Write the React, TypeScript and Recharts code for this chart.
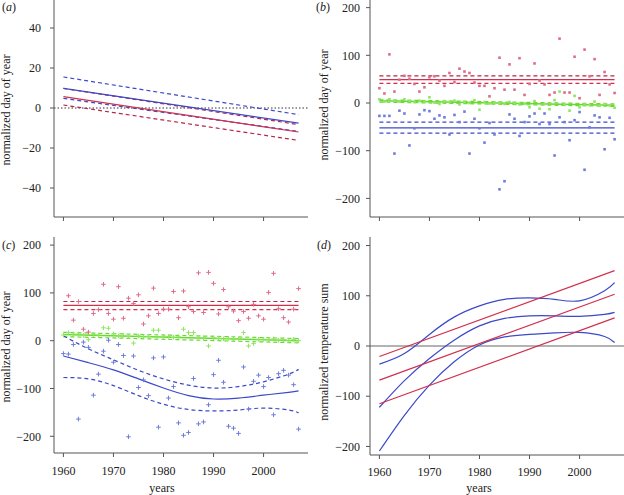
import React from 'react';
import { ComposedChart, Line, Scatter, XAxis, YAxis, ReferenceLine } from 'recharts';

// ---------- categories ----------
const YEARS = [
  1960, 1961, 1962, 1963, 1964, 1965, 1966, 1967, 1968, 1969,
  1970, 1971, 1972, 1973, 1974, 1975, 1976, 1977, 1978, 1979,
  1980, 1981, 1982, 1983, 1984, 1985, 1986, 1987, 1988, 1989,
  1990, 1991, 1992, 1993, 1994, 1995, 1996, 1997, 1998, 1999,
  2000, 2001, 2002, 2003, 2004, 2005, 2006, 2007,
];
const FIT_YEARS = [1960, 2007];
const CURVE_YEARS = [1960, 1965, 1970, 1975, 1980, 1985, 1990, 1995, 2000, 2005, 2007];
const X_TICKS = [1960, 1970, 1980, 1990, 2000];
const Y_TICKS_A = [-40, -20, 0, 20, 40];
const Y_TICKS_BIG = [-200, -100, 0, 100, 200];

// ---------- panel (a) ----------
const aBlueFit = [9.8, -7.6];
const aBlueUpper = [15.5, -3.3];
const aBlueLower = [4.8, -11.7];
const aRedFit = [5.7, -12.0];
const aRedUpper = [9.8, -8.3];
const aRedLower = [1.5, -16.2];

// ---------- panel (b) ----------
const bRed = [
  31, 20, 102, 24, 49, 57, 51, 40, 24, 33,
  54, 56, 47, 36, 63, 44, 72, 66, 63, 43,
  36, 36, 14, 31, 95, 28, 81, 28, 94, 17,
  40, 83, 47, 39, 17, 22, 135, 22, 22, 97,
  10, 112, 56, 92, 17, 65, 39, 21,
];
const bGreen = [
  8, 3, 8, 5, 3, 8, 4, 2, 5, 3,
  12, 1, -2, 4, 2, 5, -3, 2, 0, 6,
  -14, 2, -1, 1, 0, -2, 2, 0, -3, -1,
  -9, 4, -12, -2, -13, 6, 24, -4, -16, 15,
  -9, -3, -4, 3, -6, -2, -5, -10,
];
const bBlue = [
  -27, -27, -27, -106, -16, -22, -89, -53, -24, -15,
  -17, -33, -26, -30, -66, -25, -40, -18, -106, -33,
  -53, -83, -42, -66, -181, -164, -24, -33, -69, -40,
  -28, -22, -44, -22, -44, -110, -30, -40, -78, -36,
  -19, -140, -51, -26, -30, -97, -31, -76,
];
const bRedFit = [49, 49];
const bRedUpper = [57, 57];
const bRedLower = [41, 41];
const bGreenFit = [4.5, -4.5];
const bGreenUpper = [7, -2];
const bGreenLower = [2, -7];
const bBlueFit = [-52, -52];
const bBlueUpper = [-40, -40];
const bBlueLower = [-63, -63];

// ---------- panel (c) ----------
const cRed = [
  null, 94, 43, 82, 24, 18, 57, 65, 118, 57,
  45, 113, 47, 89, 78, 96, 35, 52, 110, 57,
  66, 66, 103, 48, 104, 71, 61, 142, 59, 143,
  120, 56, 107, 71, 62, 42, 61, 47, 76, 52,
  45, 101, 141, 67, 48, 39, 66, 109,
];
const cGreen = [
  12, 17, 14, 14, 11, 2, 13, 12, 27, 26,
  14, 10, 11, 9, -5, 10, 8, 9, 22, 22,
  8, 9, 7, 8, 24, 17, 17, 7, 6, -11,
  6, 5, 4, 5, 3, 4, 17, -11, -6, 3,
  3, 2, 4, 1, 2, 0, 3, 0,
];
const cBlue = [
  -27, -28, -8, -164, -3, -14, -114, -70, -22, 1,
  -45, -8, -31, -201, -32, -98, -82, -115, -36, -181,
  -34, -120, -96, -172, -198, -192, -79, -174, -170, -134,
  -71, -41, -87, -179, -183, -194, -55, -143, -85, -72,
  -96, -77, -155, -69, -62, -72, -92, -185,
];
const cRedFit = [74, 74];
const cRedUpper = [82, 82];
const cRedLower = [65, 65];
const cGreenFit = [13, 0];
const cGreenUpper = [17.5, 4.5];
const cGreenLower = [8.5, -4.5];
const cBlueFit = [-32, -46, -61, -80, -99, -115, -122, -120, -114, -108, -105];
const cBlueUpper = [10, -17, -40, -62, -80, -93, -99, -96, -86, -70, -60];
const cBlueLower = [-77, -80, -94, -115, -133, -144, -147, -145, -141, -145, -151];

// ---------- panel (d) ----------
const dRedUpper = [-21, 150];
const dRedMid = [-68, 103];
const dRedLower = [-115, 56];
const dBlueUpper = [-36, -15, 23, 58, 80, 93, 96, 93, 90, 110, 126];
const dBlueMid = [-122, -69, -25, 12, 40, 55, 60, 60, 59, 63, 67];
const dBlueLower = [-209, -138, -78, -31, 2, 18, 23, 26, 27, 19, 7];

// ---------- styling ----------
const FONT = "'Liberation Serif', 'Times New Roman', 'DejaVu Serif', serif";
const FS = 12;
const RED = '#d22f4d';
const RED_DARK = '#b8244a';
const RED_PT = '#e06c86';
const BLUE = '#3c49c8';
const BLUE_PT = '#6f7ddb';
const GREEN = '#68d832';
const GREEN_PT = '#8fe65f';
const AXIS = '#555';
const DASH = '4 3';

const pts = (xs: number[], ys: (number | null)[]) =>
  xs.map((x, i) => ({ x, y: ys[i] })).filter((p) => p.y !== null && p.y !== undefined);

const fmt = (v: number) => String(v).replace('-', '\u2212');

const square = (color: string) => (props: any) => {
  const { cx, cy } = props;
  if (cx == null || cy == null) return <g />;
  return <rect x={cx - 1.3} y={cy - 1.3} width={2.6} height={2.6} fill={color} />;
};
const plus = (color: string) => (props: any) => {
  const { cx, cy } = props;
  if (cx == null || cy == null) return <g />;
  return (
    <path d={`M${cx - 2.3},${cy}H${cx + 2.3}M${cx},${cy - 2.3}V${cy + 2.3}`} stroke={color} strokeWidth={1} fill="none" />
  );
};

const tickStyle = { fill: '#222', fontSize: FS, style: { fontFamily: FONT } };

function fitLine(key: string, xs: number[], ys: number[], color: string, dashed: boolean, type: any = 'linear', w = 1.2) {
  return (
    <Line
      key={key}
      data={pts(xs, ys)}
      dataKey="y"
      type={type}
      stroke={color}
      strokeWidth={w}
      strokeDasharray={dashed ? DASH : undefined}
      dot={false}
      activeDot={false}
      isAnimationActive={false}
      legendType="none"
    />
  );
}

function PanelA() {
  return (
    <ComposedChart width={312} height={245} margin={{ top: 0, right: 4, bottom: 0, left: 0 }}>
      <XAxis type="number" dataKey="x" domain={[1958.12, 2008.88]} ticks={X_TICKS} allowDataOverflow
        height={28} tickSize={4} tickFormatter={() => ''} stroke={AXIS} tick={tickStyle} />
      <YAxis type="number" dataKey="y" domain={[-54.5, 54]} ticks={Y_TICKS_A} allowDataOverflow
        width={54} tickSize={4} tickMargin={9} tickFormatter={fmt} stroke={AXIS} tick={tickStyle} />
      <ReferenceLine y={0} stroke="#333" strokeDasharray="1.5 2" strokeWidth={1} />
      {fitLine('abu', FIT_YEARS, aBlueUpper, BLUE, true)}
      {fitLine('abl', FIT_YEARS, aBlueLower, BLUE, true)}
      {fitLine('aru', FIT_YEARS, aRedUpper, RED_DARK, true)}
      {fitLine('arl', FIT_YEARS, aRedLower, RED_DARK, true)}
      {fitLine('abf', FIT_YEARS, aBlueFit, BLUE, false)}
      {fitLine('arf', FIT_YEARS, aRedFit, RED, false)}
    </ComposedChart>
  );
}

function PanelB() {
  return (
    <ComposedChart width={312} height={245} margin={{ top: 0, right: 0, bottom: 0, left: 0 }}>
      <XAxis type="number" dataKey="x" domain={[1958.12, 2008.88]} ticks={X_TICKS} allowDataOverflow
        height={28} tickSize={4} tickFormatter={() => ''} stroke={AXIS} tick={tickStyle} />
      <YAxis type="number" dataKey="y" domain={[-239, 216]} ticks={Y_TICKS_BIG} allowDataOverflow
        width={58} tickSize={4} tickMargin={6} tickFormatter={fmt} stroke={AXIS} tick={tickStyle} />
      <Scatter data={pts(YEARS, bRed)} dataKey="y" shape={square(RED_PT)} isAnimationActive={false} />
      <Scatter data={pts(YEARS, bBlue)} dataKey="y" shape={square(BLUE_PT)} isAnimationActive={false} />
      <Scatter data={pts(YEARS, bGreen)} dataKey="y" shape={square(GREEN_PT)} isAnimationActive={false} />
      {fitLine('bru', FIT_YEARS, bRedUpper, RED_DARK, true)}
      {fitLine('brl', FIT_YEARS, bRedLower, RED, true)}
      {fitLine('brf', FIT_YEARS, bRedFit, RED, false)}
      {fitLine('bgu', FIT_YEARS, bGreenUpper, GREEN, true)}
      {fitLine('bgl', FIT_YEARS, bGreenLower, GREEN, true)}
      {fitLine('bgf', FIT_YEARS, bGreenFit, GREEN, false, 'linear', 1.5)}
      {fitLine('bbu', FIT_YEARS, bBlueUpper, BLUE, true)}
      {fitLine('bbl', FIT_YEARS, bBlueLower, BLUE, true)}
      {fitLine('bbf', FIT_YEARS, bBlueFit, BLUE, false)}
    </ComposedChart>
  );
}

function PanelC() {
  return (
    <ComposedChart width={312} height={258} margin={{ top: 0, right: 4, bottom: 0, left: 0 }}>
      <XAxis type="number" dataKey="x" domain={[1958.12, 2008.88]} ticks={X_TICKS} allowDataOverflow
        height={42} tickSize={4} tickMargin={9} stroke={AXIS} tick={tickStyle} />
      <YAxis type="number" dataKey="y" domain={[-235, 217]} ticks={Y_TICKS_BIG} allowDataOverflow
        width={54} tickSize={4} tickMargin={9} tickFormatter={fmt} stroke={AXIS} tick={tickStyle} />
      <Scatter data={pts(YEARS, cRed)} dataKey="y" shape={plus(RED_PT)} isAnimationActive={false} />
      <Scatter data={pts(YEARS, cBlue)} dataKey="y" shape={plus(BLUE_PT)} isAnimationActive={false} />
      <Scatter data={pts(YEARS, cGreen)} dataKey="y" shape={plus(GREEN_PT)} isAnimationActive={false} />
      {fitLine('cru', FIT_YEARS, cRedUpper, RED_DARK, true)}
      {fitLine('crl', FIT_YEARS, cRedLower, RED, true)}
      {fitLine('crf', FIT_YEARS, cRedFit, RED, false)}
      {fitLine('cgu', FIT_YEARS, cGreenUpper, GREEN, true)}
      {fitLine('cgl', FIT_YEARS, cGreenLower, GREEN, true)}
      {fitLine('cgf', FIT_YEARS, cGreenFit, GREEN, false, 'linear', 1.5)}
      {fitLine('cbu', CURVE_YEARS, cBlueUpper, BLUE, true, 'natural')}
      {fitLine('cbl', CURVE_YEARS, cBlueLower, BLUE, true, 'natural')}
      {fitLine('cbf', CURVE_YEARS, cBlueFit, BLUE, false, 'natural')}
    </ComposedChart>
  );
}

function PanelD() {
  return (
    <ComposedChart width={312} height={258} margin={{ top: 0, right: 0, bottom: 0, left: 0 }}>
      <XAxis type="number" dataKey="x" domain={[1958.12, 2008.88]} ticks={X_TICKS} allowDataOverflow
        height={40} tickSize={4} tickMargin={8} stroke={AXIS} tick={tickStyle} />
      <YAxis type="number" dataKey="y" domain={[-217, 217]} ticks={Y_TICKS_BIG} allowDataOverflow
        width={58} tickSize={4} tickMargin={6} tickFormatter={fmt} stroke={AXIS} tick={tickStyle} />
      <ReferenceLine y={0} stroke="#666" strokeWidth={1} />
      {fitLine('dbu', CURVE_YEARS, dBlueUpper, BLUE, false, 'natural')}
      {fitLine('dbm', CURVE_YEARS, dBlueMid, BLUE, false, 'natural')}
      {fitLine('dbl', CURVE_YEARS, dBlueLower, BLUE, false, 'natural')}
      {fitLine('dru', FIT_YEARS, dRedUpper, RED, false)}
      {fitLine('drm', FIT_YEARS, dRedMid, RED, false)}
      {fitLine('drl', FIT_YEARS, dRedLower, RED, false)}
    </ComposedChart>
  );
}

const textStyle = { fontFamily: FONT, fontSize: FS };

function PanelTag({ x, y, letter }: { x: number; y: number; letter: string }) {
  return (
    <text x={x} y={y} fill="#222" style={textStyle}>
      (<tspan style={{ fontStyle: 'italic' }}>{letter}</tspan>)
    </text>
  );
}

function VLabel({ x, y, text }: { x: number; y: number; text: string }) {
  return (
    <text x={x} y={y} transform={`rotate(-90, ${x}, ${y})`} textAnchor="middle" fill="#222" style={textStyle}>
      {text}
    </text>
  );
}

export default function App() {
  return (
    <div style={{ position: 'absolute', left: 0, top: 0, width: 624, height: 495, background: '#fff', overflow: 'hidden', fontFamily: FONT }}>
      <div style={{ position: 'absolute', left: 0, top: 0 }}><PanelA /></div>
      <div style={{ position: 'absolute', left: 312, top: 0 }}><PanelB /></div>
      <div style={{ position: 'absolute', left: 0, top: 237 }}><PanelC /></div>
      <div style={{ position: 'absolute', left: 312, top: 237 }}><PanelD /></div>
      <svg width={624} height={495} style={{ position: 'absolute', left: 0, top: 0, pointerEvents: 'none' }}>
        <PanelTag x={2} y={10.5} letter="a" />
        <PanelTag x={316} y={10.5} letter="b" />
        <PanelTag x={2} y={248.5} letter="c" />
        <PanelTag x={317} y={248.5} letter="d" />
        <VLabel x={10} y={110} text="normalized day of year" />
        <VLabel x={328} y={105} text="normalized day of year" />
        <VLabel x={10} y={347} text="normalized day of year" />
        <VLabel x={328} y={352} text="normalized temperature sum" />
        <text x={162} y={492} textAnchor="middle" fill="#222" style={textStyle}>years</text>
        <text x={479} y={492} textAnchor="middle" fill="#222" style={textStyle}>years</text>
      </svg>
    </div>
  );
}
